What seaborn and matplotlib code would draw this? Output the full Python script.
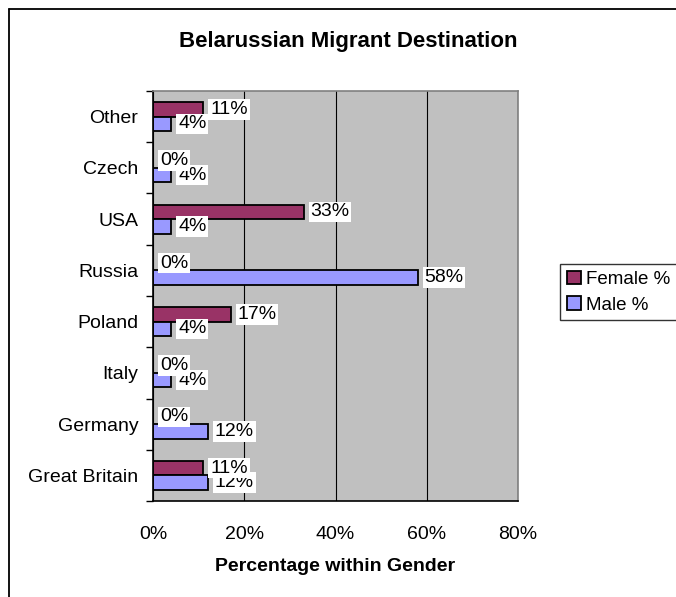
import matplotlib
matplotlib.use("Agg")
import matplotlib.pyplot as plt
from matplotlib.lines import Line2D
from matplotlib.ticker import FixedLocator, PercentFormatter
import seaborn as sns
import pandas as pd

categories = ["Other", "Czech", "USA", "Russia", "Poland", "Italy", "Germany", "Great Britain"]
female_pct = [11, 0, 33, 0, 17, 0, 0, 11]
male_pct = [4, 4, 4, 58, 4, 4, 12, 12]
series_names = ["Female %", "Male %"]
x_ticks = [0, 20, 40, 60, 80]

title = "Belarussian Migrant Destination"
x_label = "Percentage within Gender"

df = pd.DataFrame({
    "Destination": categories * 2,
    "Series": [series_names[0]] * len(categories) + [series_names[1]] * len(categories),
    "Value": female_pct + male_pct,
})

sns.set_style("white")
plt.rcParams["font.family"] = ["Liberation Sans", "DejaVu Sans"]
plt.rcParams["text.color"] = "black"
plt.rcParams["axes.labelcolor"] = "black"
plt.rcParams["xtick.color"] = "black"
plt.rcParams["ytick.color"] = "black"

W, H = 676, 597
fig = plt.figure(figsize=(W / 100, H / 100), dpi=100)
ax = fig.add_axes([153 / W, 1 - 501 / H, (518 - 153) / W, (501 - 91) / H])

sns.barplot(data=df, y="Destination", x="Value", hue="Series", order=categories,
            hue_order=series_names, palette=["#993366", "#9999FF"], orient="h",
            width=0.57, edgecolor="black", linewidth=1.3, saturation=1, ax=ax,
            errorbar=None)

ax.set_facecolor("#C0C0C0")
ax.set_xlim(0, 80)
ax.xaxis.set_major_locator(FixedLocator(x_ticks))
ax.xaxis.set_major_formatter(PercentFormatter(decimals=0))
ax.grid(axis="x", color="black", linewidth=0.8)
ax.set_axisbelow(True)
ax.set_ylabel("")
ax.set_xlabel(x_label, fontsize=14, fontweight="bold", labelpad=11)

for s in ["top", "right"]:
    ax.spines[s].set_color("#808080")
    ax.spines[s].set_linewidth(1.2)
for s in ["left", "bottom"]:
    ax.spines[s].set_color("black")
    ax.spines[s].set_linewidth(1.2)

ax.tick_params(axis="x", which="major", direction="out", length=5, width=1,
               color="black", labelcolor="black", labelsize=14, pad=13)
ax.tick_params(axis="y", which="major", length=0, labelsize=14, pad=10.5, labelcolor="black")
ax.yaxis.set_minor_locator(FixedLocator([i - 0.5 for i in range(len(categories) + 1)]))
ax.tick_params(axis="y", which="minor", direction="out", length=5, width=1, color="black", left=True)

# data labels
handles, labels = ax.get_legend_handles_labels()
if ax.legend_ is not None:
    ax.legend_.remove()
for ci, cont in enumerate(ax.containers):
    z = 5 if ci == 0 else 4
    for bar in cont:
        v = bar.get_width()
        yc = bar.get_y() + bar.get_height() / 2
        ax.annotate(f"{v:.0f}%", xy=(v, yc), xytext=(5, 0), textcoords="offset points",
                    ha="left", va="center", fontsize=14, zorder=z, color="black",
                    bbox=dict(facecolor="white", edgecolor="none", pad=1.2))

fig.legend(handles, labels, loc="upper left", bbox_to_anchor=(560 / W, 1 - 264 / H),
           fontsize=13.5, frameon=True, fancybox=False, edgecolor="black",
           handlelength=0.75, handleheight=0.75, handletextpad=0.3,
           borderpad=0.35, labelspacing=0.45, borderaxespad=0)

fig.text(348 / W, 1 - 42 / H, title, ha="center", va="center", fontsize=16, fontweight="bold")

# outer chart border
fig.add_artist(Line2D([8.5 / W, 8.5 / W], [0, 1 - 8.5 / H], color="black", linewidth=1.3))
fig.add_artist(Line2D([8.5 / W, 1], [1 - 8.5 / H, 1 - 8.5 / H], color="black", linewidth=1.3))

fig.savefig("out.png", dpi=100)
